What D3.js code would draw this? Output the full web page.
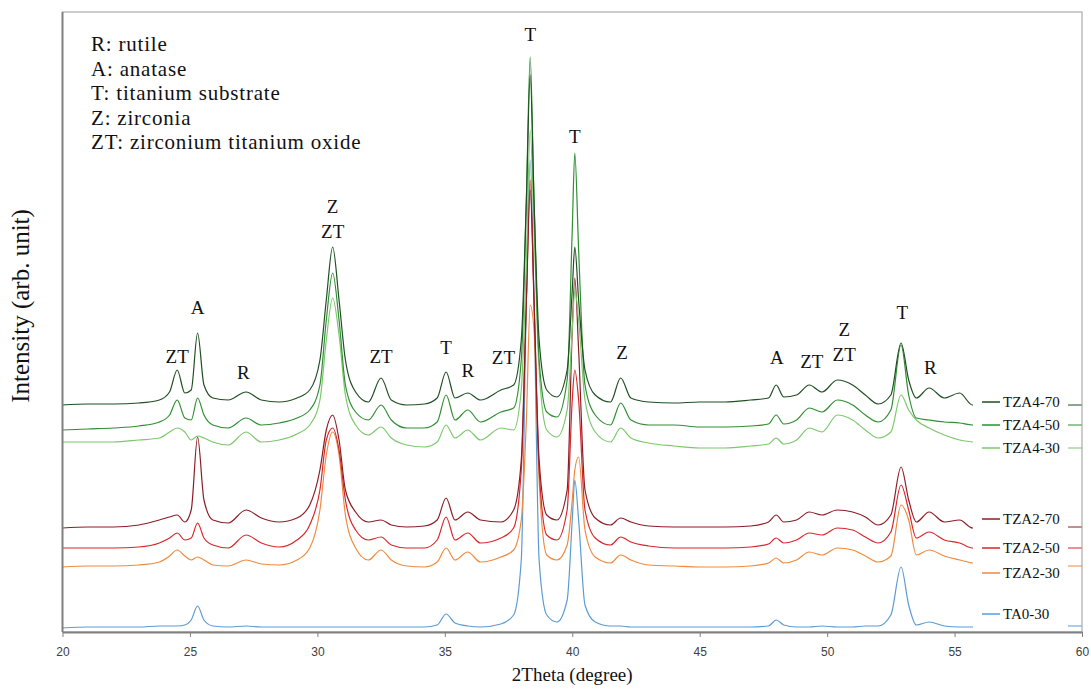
<!DOCTYPE html>
<html>
<head>
<meta charset="utf-8">
<style>
  body {
    margin: 0;
    background: #fff
  }
  svg text {
    font-family: "Liberation Serif", "Times New Roman", serif;
    fill: #111
  }
  .tick text {
    font-family: "Liberation Sans", Arial, sans-serif;
    font-size: 12px;
    fill: #404040
  }
</style>
<script type="text/javascript" src="https://d3js.org/d3.v7.min.js"></script>
</head>
<body>
<svg id="chart"></svg>
<script type="text/javascript">
// 2theta positions (degree), shared by every pattern
let theta = [20, 21, 22, 23, 23.8, 24.2, 24.5, 24.8, 25.05, 25.3,
  25.55, 25.9, 26.5, 27.2, 27.8, 28.5, 29.2, 29.7, 30.1, 30.35,
  30.6, 30.85, 31.1, 31.5, 32.0, 32.5, 32.9, 33.5, 34.2, 34.7,
  35.05, 35.4, 35.9, 36.4, 37.2, 37.7, 38.0, 38.2, 38.35, 38.5,
  38.7, 39.0, 39.4, 39.8, 40.0, 40.1, 40.25, 40.5, 40.9, 41.5,
  41.9, 42.3, 43, 44, 45, 46, 47, 47.7, 48.0, 48.3,
  48.8, 49.3, 49.8, 50.4, 51.0, 51.5, 52.0, 52.5, 52.9, 53.2,
  53.5, 54.0, 54.6, 55.2, 55.7, 57, 58, 59, 60]

// intensities (arb. unit, offset patterns)
let tza4_70 = [227, 228, 228, 229, 232, 240, 262, 239, 242, 299,
  247, 234, 232, 240, 232, 230, 234, 242, 272, 332,
  385, 332, 272, 240, 230, 254, 232, 227, 228, 234,
  260, 234, 239, 232, 242, 247, 292, 432, 557, 432,
  292, 242, 235, 262, 342, 385, 332, 262, 237, 230,
  254, 234, 230, 229, 230, 230, 232, 234, 247, 235,
  237, 247, 240, 252, 247, 237, 228, 237, 289, 252,
  234, 244, 234, 239, 227, 227, 227, 227, 227]
let tza4_50 = [202, 203, 204, 206, 210, 217, 232, 214, 212, 234,
  217, 207, 204, 214, 207, 209, 214, 222, 247, 312,
  359, 312, 247, 220, 212, 227, 212, 204, 204, 210,
  237, 212, 222, 210, 220, 224, 272, 432, 575, 432,
  272, 220, 215, 252, 402, 479, 382, 247, 217, 207,
  229, 212, 207, 207, 205, 205, 206, 208, 217, 208,
  212, 224, 220, 232, 227, 217, 210, 222, 287, 237,
  214, 212, 210, 209, 207, 207, 207, 207, 207]
let tza4_30 = [190, 190, 190, 192, 194, 200, 204, 200, 192, 196,
  194, 190, 187, 200, 190, 192, 198, 207, 232, 292,
  334, 297, 237, 207, 197, 205, 194, 187, 185, 190,
  207, 194, 202, 192, 204, 202, 242, 372, 502, 402,
  262, 202, 195, 222, 302, 342, 312, 232, 200, 190,
  204, 194, 189, 186, 184, 184, 186, 188, 194, 188,
  192, 204, 200, 217, 212, 202, 194, 200, 237, 222,
  212, 204, 197, 192, 190, 186, 185, 184, 184]
let tza2_70 = [104, 105, 105, 107, 112, 115, 117, 110, 122, 195,
  132, 112, 109, 122, 114, 110, 114, 127, 162, 202,
  217, 192, 142, 120, 110, 112, 107, 105, 106, 112,
  134, 112, 120, 112, 110, 122, 172, 332, 442, 332,
  172, 117, 112, 142, 302, 354, 282, 142, 114, 107,
  114, 110, 106, 105, 105, 105, 106, 110, 117, 110,
  112, 120, 117, 122, 120, 115, 107, 117, 165, 132,
  110, 120, 110, 112, 104, 105, 105, 105, 105]
let tza2_50 = [84, 84, 84, 85, 89, 94, 99, 92, 94, 109,
  94, 87, 84, 97, 89, 85, 92, 107, 142, 192,
  204, 182, 132, 102, 92, 95, 87, 84, 84, 92,
  115, 92, 99, 89, 94, 104, 162, 332, 452, 332,
  162, 97, 92, 122, 232, 262, 232, 122, 94, 87,
  95, 90, 86, 84, 84, 84, 85, 88, 94, 89,
  92, 99, 97, 104, 102, 95, 89, 100, 147, 122,
  94, 100, 92, 89, 84, 84, 84, 84, 84]
let tza2_30 = [65, 66, 66, 67, 70, 76, 82, 76, 72, 75,
  72, 67, 66, 72, 68, 67, 72, 84, 122, 177,
  200, 177, 117, 84, 72, 82, 72, 66, 65, 70,
  84, 72, 80, 70, 75, 82, 112, 212, 327, 302,
  152, 77, 72, 87, 132, 162, 175, 102, 75, 69,
  77, 72, 67, 66, 65, 65, 66, 69, 74, 69,
  72, 80, 77, 84, 82, 76, 70, 76, 127, 112,
  77, 82, 76, 72, 69, 66, 66, 66, 66]
let ta0_30 = [4, 5, 5, 5, 6, 6, 6, 7, 12, 26,
  12, 6, 5, 6, 5, 5, 5, 5, 5, 5,
  5, 5, 5, 5, 5, 5, 5, 5, 5, 7,
  18, 9, 6, 5, 8, 17, 72, 332, 472, 332,
  72, 17, 10, 32, 112, 152, 112, 27, 10, 6,
  6, 5, 5, 5, 5, 5, 5, 6, 12, 7,
  5, 5, 6, 5, 5, 6, 6, 17, 65, 27,
  7, 10, 6, 5, 5, 6, 6, 6, 6]

let seriesNames = ['TZA4-70', 'TZA4-50', 'TZA4-30', 'TZA2-70', 'TZA2-50', 'TZA2-30', 'TA0-30']
let seriesValues = [tza4_70, tza4_50, tza4_30, tza2_70, tza2_50, tza2_30, ta0_30]
let seriesColors = ['#1f4f22', '#2f8f32', '#7cc86c', '#8b1d26', '#d9272c', '#ef8a3e', '#5b9bd5']
let legendY = [402, 425, 448, 519, 548, 573, 614]

let xTicks = [20, 25, 30, 35, 40, 45, 50, 55, 60]

let phaseNotes = ['R: rutile', 'A: anatase', 'T: titanium substrate', 'Z: zirconia', 'ZT: zirconium titanium oxide']

// peak labels: position and level in data units
let peakTheta = [24.5, 25.3, 27.1, 30.6, 30.6, 32.5, 35.05, 35.9, 37.3, 38.35, 40.1, 41.95, 48.03, 49.4, 50.67, 50.67, 52.95, 54.05]
let peakLevel = [269, 318, 253, 419, 394, 269, 278, 255, 268, 591, 489, 273, 268, 264, 296, 271, 313, 258]
let peakText = ['ZT', 'A', 'R', 'Z', 'ZT', 'ZT', 'T', 'R', 'ZT', 'T', 'T', 'Z', 'A', 'ZT', 'Z', 'ZT', 'T', 'R']

let width = 1091,
    height = 690

let x = d3.scaleLinear().domain([20, 60]).range([62.5, 1082])
let y = d3.scaleLinear().domain([0, 620]).range([632, 12])

let svg = d3.select('#chart')
  .attr('width', width)
  .attr('height', height)

let line = d3.line()
  .x(function(d, i) { return x(theta[i]) })
  .y(function(d) { return y(d) })
  .curve(d3.curveMonotoneX)

// draw bottom pattern first so the green ones sit on top
let order = [6, 5, 4, 3, 2, 1, 0]
svg.append('g')
  .selectAll('path')
  .data(order)
  .enter()
  .append('path')
  .attr('fill', 'none')
  .attr('stroke', function(k) { return seriesColors[k] })
  .attr('stroke-width', 1.2)
  .attr('stroke-linejoin', 'round')
  .attr('d', function(k) { return line(seriesValues[k]) })

// legend box hides the patterns behind it
svg.append('rect')
  .attr('x', 973).attr('y', 380)
  .attr('width', 95).attr('height', 250)
  .attr('fill', '#fff')

let legend = svg.append('g')
  .selectAll('g')
  .data(seriesNames)
  .enter()
  .append('g')
  .attr('transform', function(d, i) { return 'translate(982,' + legendY[i] + ')' })

legend.append('line')
  .attr('x1', 0).attr('x2', 18)
  .attr('stroke', function(d, i) { return seriesColors[i] })
  .attr('stroke-width', 1.5)

legend.append('text')
  .attr('x', 21)
  .attr('dy', '0.35em')
  .style('font-size', '15px')
  .text(function(d) { return d })

// frame
svg.append('rect')
  .attr('x', 62.5).attr('y', 12)
  .attr('width', 1082 - 62.5).attr('height', 620)
  .attr('fill', 'none')
  .attr('stroke', '#9a9a9a')
  .attr('stroke-width', 1)

svg.append('line')
  .attr('x1', 62.5).attr('x2', 62.5)
  .attr('y1', 12).attr('y2', 632)
  .attr('stroke', '#808080')
  .attr('stroke-width', 2)

let xAxis = svg.append('g')
  .attr('transform', 'translate(0,632)')
  .call(d3.axisBottom(x).tickValues(xTicks).tickSize(5).tickSizeOuter(0).tickPadding(10))

xAxis.select('.domain').attr('stroke', '#808080').attr('stroke-width', 2)
xAxis.selectAll('.tick line').attr('stroke', '#808080')

// peak labels
svg.append('g')
  .selectAll('text')
  .data(peakText)
  .enter()
  .append('text')
  .attr('x', function(d, i) { return x(peakTheta[i]) })
  .attr('y', function(d, i) { return y(peakLevel[i]) })
  .attr('text-anchor', 'middle')
  .style('font-size', '19px')
  .text(function(d) { return d })

// phase key
svg.append('g')
  .selectAll('text')
  .data(phaseNotes)
  .enter()
  .append('text')
  .attr('x', 91)
  .attr('y', function(d, i) { return 51 + i * 24.6 })
  .style('font-size', '21px')
  .style('letter-spacing', '0.8px')
  .text(function(d) { return d })

svg.append('text')
  .attr('x', (62.5 + 1082) / 2)
  .attr('y', 681)
  .attr('text-anchor', 'middle')
  .style('font-size', '19px')
  .text('2Theta (degree)')

svg.append('text')
  .attr('transform', 'translate(29,' + 306 + ') rotate(-90)')
  .attr('text-anchor', 'middle')
  .style('font-size', '25px')
  .text('Intensity (arb. unit)')
</script>
</body>
</html>
